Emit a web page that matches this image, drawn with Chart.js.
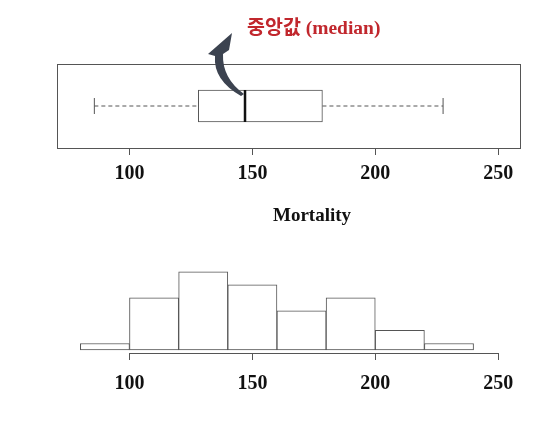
<!DOCTYPE html>
<html>
<head>
<meta charset="utf-8">
<script src="https://cdn.jsdelivr.net/npm/chart.js@4"></script>
<style>
  html, body { margin: 0; padding: 0; background: #fff; }
  #page { position: relative; width: 550px; height: 425px; }
  #boxChart { position: absolute; left: 0; top: 0; }
  #histChart { position: absolute; left: 0; top: 200px; }
</style>
</head>
<body>
<div id="page">
  <canvas id="boxChart" width="550" height="200"></canvas>
  <canvas id="histChart" width="550" height="225"></canvas>
</div>
<script>
// Mortality - five number summary (boxplot)
const boxLabel = 'Mortality';
const boxStats = { min: 85.7, q1: 128, median: 147, q3: 178.5, max: 227.6 };

// Mortality - histogram
const binEdges = [80, 100, 120, 140, 160, 180, 200, 220, 240];
const binCounts = [1, 8, 12, 10, 6, 8, 3, 1];

const tickValues = [100, 150, 200, 250];
const xMin = 70.5, xMax = 259.3;

const medianNote = '중앙값 (median)';
const histTitle = 'Mortality';

const tickFont = { family: "'Liberation Serif', 'DejaVu Serif', serif", size: 20, weight: 'bold' };
const lineGray = '#555';

function fixedTicks(scale) {
    scale.ticks = tickValues.map(v => ({ value: v }));
}

// frame around the boxplot region
const framePlugin = {
    id: 'frame',
    afterDraw(chart) {
        const a = chart.chartArea, ctx = chart.ctx;
        ctx.save();
        ctx.strokeStyle = lineGray;
        ctx.lineWidth = 1;
        ctx.strokeRect(a.left + 0.5, a.top + 0.5, a.right - a.left - 1, a.bottom - a.top);
        ctx.restore();
    }
};

// curved arrow + red label pointing at the median
const medianNotePlugin = {
    id: 'medianNote',
    afterDraw(chart) {
        const ctx = chart.ctx;
        const dx = chart.scales.x.getPixelForValue(boxStats.median) - 245;
        ctx.save();
        ctx.translate(dx, 0);
        ctx.fillStyle = '#3c4350';
        ctx.beginPath();
        ctx.moveTo(241, 96);
        ctx.quadraticCurveTo(213, 80, 215, 56);
        ctx.lineTo(208, 54);
        ctx.lineTo(232, 33);
        ctx.lineTo(229, 50);
        ctx.lineTo(223, 54);
        ctx.quadraticCurveTo(222, 78, 244, 94);
        ctx.closePath();
        ctx.fill();
        ctx.fillStyle = '#c1272d';
        ctx.font = "bold 19.5px 'Liberation Serif', 'Noto Sans CJK KR', serif";
        ctx.textBaseline = 'middle';
        ctx.textAlign = 'left';
        ctx.fillText(medianNote, 247, 29);
        ctx.restore();
    }
};

new Chart(document.getElementById('boxChart'), {
    type: 'bar',
    data: {
        labels: [boxLabel],
        datasets: [
            {
                type: 'bar',
                data: [[boxStats.q1, boxStats.q3]],
                backgroundColor: '#fff',
                borderColor: lineGray,
                borderWidth: 1,
                borderSkipped: false,
                barThickness: 32,
                order: 3
            },
            {
                type: 'line',
                data: [{ x: boxStats.min, y: boxLabel }, { x: boxStats.q1, y: boxLabel }],
                borderColor: lineGray,
                borderWidth: 1,
                borderDash: [4, 3],
                pointStyle: 'line',
                pointRotation: 90,
                pointRadius: [8, 0],
                pointBorderColor: lineGray,
                pointBorderWidth: 1,
                order: 2
            },
            {
                type: 'line',
                data: [{ x: boxStats.q3, y: boxLabel }, { x: boxStats.max, y: boxLabel }],
                borderColor: lineGray,
                borderWidth: 1,
                borderDash: [4, 3],
                pointStyle: 'line',
                pointRotation: 90,
                pointRadius: [0, 8],
                pointBorderColor: lineGray,
                pointBorderWidth: 1,
                order: 2
            },
            {
                type: 'line',
                data: [{ x: boxStats.median, y: boxLabel }],
                showLine: false,
                pointStyle: 'line',
                pointRotation: 90,
                pointRadius: 16,
                pointBorderColor: '#111',
                pointBorderWidth: 2.5,
                order: 1
            }
        ]
    },
    options: {
        indexAxis: 'y',
        responsive: false,
        animation: false,
        layout: { padding: { left: 57, right: 29, top: 64, bottom: 12 } },
        plugins: { legend: { display: false }, tooltip: { enabled: false } },
        scales: {
            x: {
                type: 'linear',
                min: xMin,
                max: xMax,
                afterBuildTicks: fixedTicks,
                afterFit: s => { s.height = 40; },
                border: { display: false },
                grid: { offset: false, drawOnChartArea: false, drawTicks: true, tickLength: 7, color: lineGray },
                ticks: { font: tickFont, color: '#111', padding: 7, maxRotation: 0 }
            },
            y: { display: false }
        }
    },
    plugins: [framePlugin, medianNotePlugin]
});

// axis line only between first and last tick, plus title
const histDecorPlugin = {
    id: 'histDecor',
    afterDraw(chart) {
        const ctx = chart.ctx, a = chart.chartArea, xs = chart.scales.x;
        ctx.save();
        ctx.strokeStyle = lineGray;
        ctx.lineWidth = 1;
        ctx.beginPath();
        ctx.moveTo(xs.getPixelForValue(tickValues[0]), a.bottom + 0.5);
        ctx.lineTo(xs.getPixelForValue(tickValues[tickValues.length - 1]), a.bottom + 0.5);
        ctx.stroke();
        ctx.fillStyle = '#111';
        ctx.font = "bold 19px 'Liberation Serif', 'DejaVu Serif', serif";
        ctx.textAlign = 'center';
        ctx.textBaseline = 'middle';
        ctx.fillText(histTitle, 312, 16);
        ctx.restore();
    }
};

new Chart(document.getElementById('histChart'), {
    type: 'bar',
    data: {
        datasets: [{
            data: binCounts.map((c, i) => ({ x: (binEdges[i] + binEdges[i + 1]) / 2, y: c })),
            backgroundColor: '#fff',
            borderColor: lineGray,
            borderWidth: 1,
            borderSkipped: false,
            barPercentage: 1,
            categoryPercentage: 1
        }]
    },
    options: {
        responsive: false,
        animation: false,
        layout: { padding: { left: 57, right: 29, top: 60, bottom: 32 } },
        plugins: { legend: { display: false }, tooltip: { enabled: false } },
        scales: {
            x: {
                type: 'linear',
                min: xMin,
                max: xMax,
                offset: false,
                afterBuildTicks: fixedTicks,
                afterFit: s => { s.height = 40; },
                border: { display: false },
                grid: { offset: false, drawOnChartArea: false, drawTicks: true, tickLength: 7, color: lineGray },
                ticks: { font: tickFont, color: '#111', padding: 12, maxRotation: 0 }
            },
            y: { display: false, min: -0.46, max: 13.8 }
        }
    },
    plugins: [histDecorPlugin]
});
</script>
</body>
</html>
